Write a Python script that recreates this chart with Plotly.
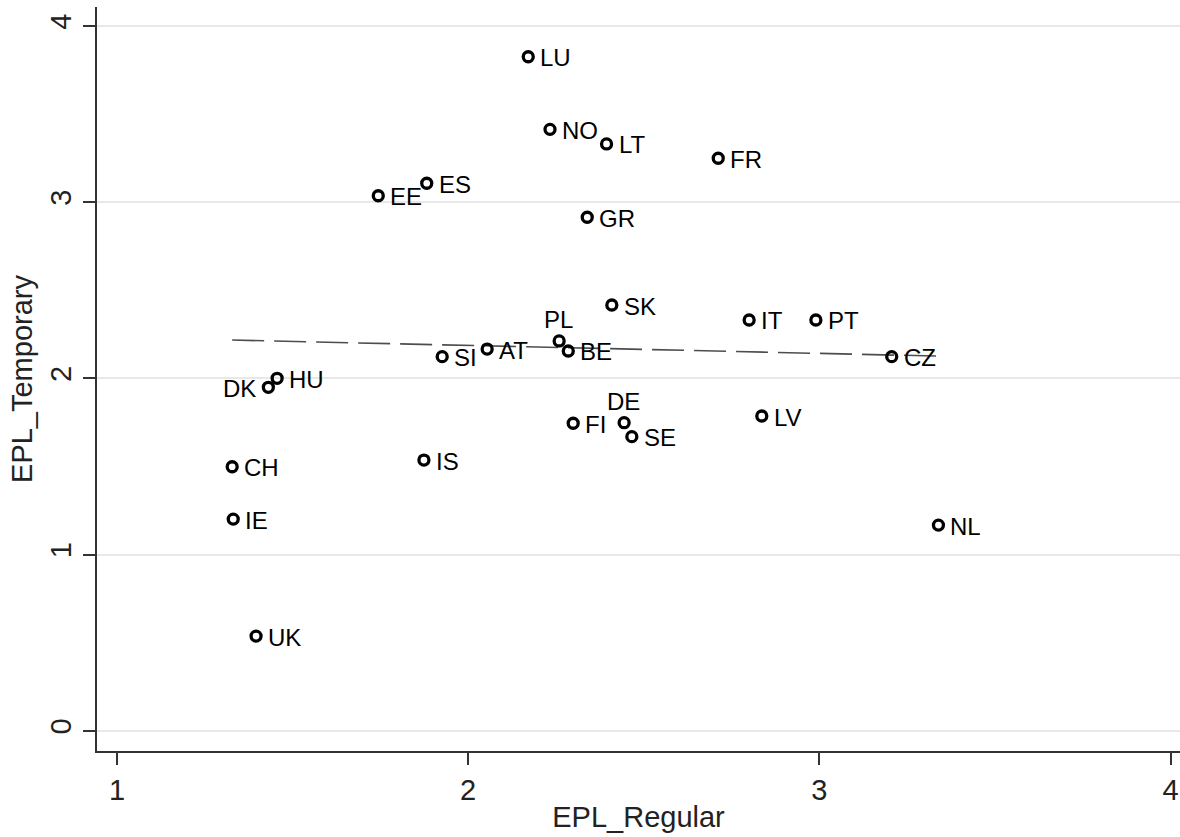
import plotly.graph_objects as go

# Employment protection legislation indices by country
countries = ["LU", "NO", "LT", "FR", "ES", "EE", "GR", "SK", "PL", "BE", "AT", "SI",
             "IT", "PT", "CZ", "DK", "HU", "DE", "FI", "SE", "LV", "CH", "IS", "IE",
             "NL", "UK"]
epl_regular = [2.171, 2.233, 2.394, 2.712, 1.882, 1.744, 2.339, 2.409, 2.259, 2.285, 2.054, 1.926,
               2.800, 2.990, 3.206, 1.431, 1.456, 2.444, 2.299, 2.466, 2.836, 1.328, 1.874, 1.331,
               3.339, 1.396]
epl_temporary = [3.825, 3.413, 3.330, 3.249, 3.107, 3.036, 2.914, 2.416, 2.212, 2.155, 2.166, 2.123,
                 2.331, 2.331, 2.123, 1.949, 2.000, 1.748, 1.745, 1.669, 1.786, 1.498, 1.536, 1.201,
                 1.167, 0.537]
# where each country label sits relative to its marker (default: right)
label_side = {"DK": "left", "PL": "top", "DE": "top"}

# fitted line EPL_Temporary = fit_intercept + fit_slope * EPL_Regular
fit_intercept = 2.277
fit_slope = -0.0452

x_ticks = [1, 2, 3, 4]
y_ticks = [0, 1, 2, 3, 4]

fit_x = [min(epl_regular), max(epl_regular)]
fit_y = [fit_intercept + fit_slope * v for v in fit_x]

fig = go.Figure()
fig.add_trace(go.Scatter(
    x=fit_x, y=fit_y, mode="lines",
    line=dict(color="#4d4d4d", width=1.6, dash="32px,10px"),
    hoverinfo="skip", showlegend=False,
))
fig.add_trace(go.Scatter(
    x=epl_regular, y=epl_temporary, mode="markers",
    marker=dict(symbol="circle-open", size=10, color="black", line=dict(width=3.3, color="black")),
    text=countries, hoverinfo="text+x+y", showlegend=False,
))

label_font = dict(family="Liberation Sans, Arial, sans-serif", size=24, color="black")
for c, xv, yv in zip(countries, epl_regular, epl_temporary):
    side = label_side.get(c, "right")
    if side == "right":
        kw = dict(xanchor="left", yanchor="middle", xshift=10, yshift=-1)
    elif side == "left":
        kw = dict(xanchor="right", yanchor="middle", xshift=-10, yshift=-1)
    else:
        kw = dict(xanchor="center", yanchor="bottom", xshift=-1, yshift=6)
    fig.add_annotation(x=xv, y=yv, text=c, showarrow=False, font=label_font, **kw)

axis_font = dict(family="Liberation Sans, Arial, sans-serif", size=29, color="#222222")

fig.update_layout(
    width=1180, height=837,
    margin=dict(l=97, r=0, t=7, b=86),
    plot_bgcolor="white", paper_bgcolor="white",
    font=axis_font,
    xaxis=dict(
        range=[0.9431, 4.0268], tickvals=x_ticks, ticktext=[str(v) for v in x_ticks],
        showgrid=False, zeroline=False, showline=True, linecolor="#333333", linewidth=2,
        ticks="outside", ticklen=12, tickwidth=1.5, tickcolor="#333333",
        tickfont=axis_font, title=dict(text="EPL_Regular", font=axis_font, standoff=2),
    ),
    yaxis=dict(
        range=[-0.1152, 4.1073], tickvals=y_ticks, ticktext=[str(v) for v in y_ticks],
        showgrid=True, gridcolor="#e8e8e8", gridwidth=1.5, zeroline=False,
        showline=True, linecolor="#333333", linewidth=2,
        ticks="outside", ticklen=12, tickwidth=1.5, tickcolor="#333333", tickangle=-90,
        tickfont=axis_font, title=dict(text="EPL_Temporary", font=axis_font, standoff=4),
    ),
)

fig.write_html("out.html")
